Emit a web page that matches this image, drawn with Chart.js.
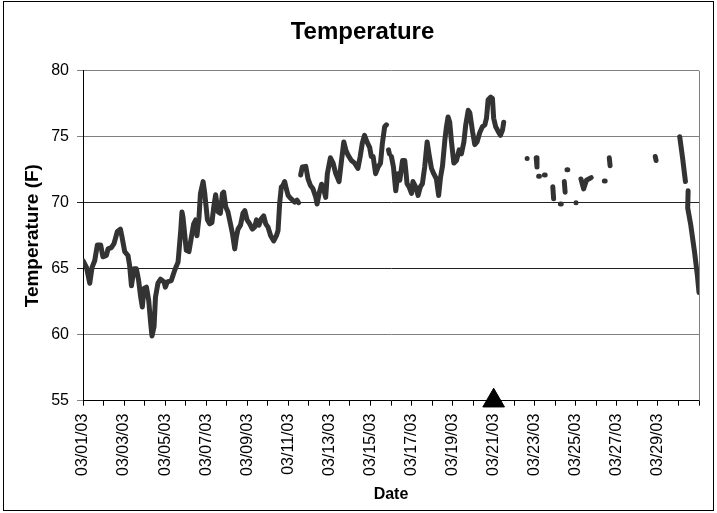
<!DOCTYPE html>
<html>
<head>
<meta charset="utf-8">
<title>Temperature</title>
<script src="https://cdn.jsdelivr.net/npm/chart.js@4.4.1/dist/chart.umd.min.js"></script>
<style>
  body { margin: 0; background: #fff; }
  canvas { display: block; }
</style>
</head>
<body>
<canvas id="chart" width="717" height="513"></canvas>
<script>
// day offsets from 03/01/03 00:00 and temperature readings (null = missing data)
const days = [
  0, 0.17, 0.33, 0.44, 0.57, 0.70, 0.86, 0.97, 1.14, 1.22, 1.38, 1.51, 1.67, 1.82, 1.90,
  2.03, 2.19, 2.27, 2.36, 2.48, 2.60, 2.71, 2.81, 2.89, 2.97, 3.09, 3.20, 3.30, 3.36, 3.46,
  3.53, 3.65, 3.78, 3.95, 4.01, 4.11, 4.30, 4.47, 4.63, 4.76, 4.82, 4.87, 5.03, 5.16, 5.28,
  5.39, 5.49, 5.55, 5.65, 5.72, 5.85, 5.93, 6.06, 6.17, 6.28, 6.37, 6.46, 6.58, 6.69, 6.79,
  6.85, 6.95, 7.06, 7.18, 7.28, 7.39, 7.47, 7.55, 7.67, 7.79, 7.88, 7.99, 8.12, 8.25, 8.36,
  8.45, 8.57, 8.69, 8.80, 8.90, 9.01, 9.14, 9.29, 9.42, 9.50, 9.58, 9.66, 9.74, 9.82, 9.91,
  9.99, 10.07, 10.20, 10.31, 10.42, 10.50, 10.55,
  10.60, 10.68, 10.85, 10.96, 11.08, 11.20, 11.34, 11.40, 11.50, 11.62, 11.72, 11.82, 11.90,
  12.05, 12.18, 12.31, 12.47, 12.59, 12.70, 12.80, 12.91, 13.07, 13.23, 13.39, 13.50, 13.60,
  13.71, 13.83, 13.96, 14.04, 14.13, 14.25, 14.37, 14.49, 14.58, 14.69, 14.78, 14.83,
  14.88, 14.92, 14.96,
  15.02, 15.12, 15.23, 15.34, 15.43, 15.56, 15.67, 15.72, 15.78, 15.88, 16.00, 16.07, 16.20,
  16.32, 16.43, 16.53, 16.64, 16.76, 16.86, 16.97, 17.08, 17.21, 17.32, 17.41, 17.51, 17.62,
  17.70, 17.78, 17.86, 17.94, 18.06, 18.19, 18.32, 18.43, 18.55, 18.64, 18.76, 18.84, 18.97,
  19.08, 19.19, 19.32, 19.45, 19.57, 19.65, 19.73, 19.86, 19.94, 20.00, 20.10, 20.22, 20.33,
  20.43, 20.49, 20.55,
  21.63, 21.67, 21.70,
  22.07, 22.11, 22.15,
  22.19, 22.23, 22.27,
  22.47, 22.51, 22.55,
  22.88, 22.92, 22.96,
  23.25, 23.29, 23.33,
  23.44, 23.48, 23.52,
  23.57, 23.61, 23.65,
  24.01, 24.05, 24.09,
  24.25, 24.38, 24.52, 24.75, 24.80,
  25.39, 25.43, 25.47,
  25.63, 25.67, 25.71,
  27.87, 27.91, 27.95,
  29.06, 29.20, 29.34, 29.38,
  29.47, 29.45, 29.60, 29.78, 29.92, 30.00
];
const temps = [
  65.6, 65.1, 63.9, 65.1, 65.6, 66.8, 66.8, 65.9, 66.0, 66.5, 66.6, 66.9, 67.8, 68.0, 67.4,
  66.3, 66.0, 65.25, 63.7, 65.0, 65.0, 64.1, 62.85, 62.1, 63.5, 63.6, 62.6, 60.8, 59.9, 60.6,
  62.85, 63.9, 64.2, 64.0, 63.6, 64.0, 64.1, 64.9, 65.5, 67.9, 69.3, 68.9, 66.4, 66.3, 67.4,
  68.4, 68.7, 67.5, 68.9, 70.7, 71.6, 70.7, 68.7, 68.4, 68.5, 69.7, 70.6, 69.3, 69.2, 70.7,
  70.8, 69.7, 69.3, 68.4, 67.65, 66.5, 67.4, 68.0, 68.3, 69.2, 69.4, 68.7, 68.4, 68.0, 68.15,
  68.7, 68.3, 68.8, 69.0, 68.4, 68.15, 67.5, 67.1, 67.5, 67.9, 70.0, 71.2, 71.3, 71.6, 71.0,
  70.55, 70.4, 70.2, 70.05, 70.2, 70.0, null,
  72.1, 72.7, 72.75, 71.8, 71.3, 71.05, 70.4, 69.9, 70.7, 71.4, 71.05, 70.4, 72.2,
  73.4, 73.0, 72.2, 71.6, 73.2, 74.6, 74.0, 73.6, 73.2, 73.0, 72.6, 73.5, 74.5,
  75.1, 74.6, 74.2, 73.5, 73.5, 72.2, 72.7, 73.0, 74.5, 75.75, 75.9, null,
  74.0, 73.7, null,
  73.5, 72.7, 70.9, 72.2, 71.7, 73.2, 73.2, 72.45, 71.45, 71.2, 70.7, 71.6, 71.2,
  70.55, 71.2, 71.45, 72.7, 74.6, 73.6, 72.6, 72.2, 71.8, 70.55, 71.9, 72.8, 74.7,
  75.75, 76.5, 76.1, 74.7, 73.0, 73.2, 74.0, 73.7, 74.6, 75.9, 77.0, 76.8, 75.4,
  74.4, 74.6, 75.3, 75.75, 75.9, 76.4, 77.8, 78.0, 77.9, 76.4, 75.75, 75.4, 75.1,
  75.5, 76.1, null,
  73.35, 73.35, null,
  73.4, 72.7, null,
  72.0, 72.0, null,
  72.1, 72.1, null,
  71.2, 70.3, null,
  69.9, 69.9, null,
  71.6, 70.8, null,
  72.5, 72.5, null,
  70.0, 70.0, null,
  71.8, 71.05, 71.7, 71.9, null,
  71.65, 71.65, null,
  73.4, 72.8, null,
  73.5, 73.2, null,
  75.0, 73.4, 71.6, null,
  70.9, 69.6, 68.3, 66.3, 64.5, 63.2
];

// marker shown on the date axis
const markerDay = 20;
const markerTemp = 55;

const dateLabels = ['03/01/03', '03/03/03', '03/05/03', '03/07/03', '03/09/03', '03/11/03',
  '03/13/03', '03/15/03', '03/17/03', '03/19/03', '03/21/03', '03/23/03', '03/25/03',
  '03/27/03', '03/29/03'];
const yTicks = [55, 60, 65, 70, 75, 80];

const points = days.map((d, i) => ({ x: d, y: temps[i] }));

const frame = {
  id: 'frame',
  beforeDraw(chart) {
    const ctx = chart.ctx;
    ctx.save();
    ctx.fillStyle = '#fff';
    ctx.fillRect(0, 0, chart.width, chart.height);
    ctx.restore();
  },
  afterDraw(chart) {
    const ctx = chart.ctx, a = chart.chartArea;
    ctx.save();
    ctx.strokeStyle = '#000';
    ctx.lineWidth = 1;
    ctx.strokeRect(3.5, 1.5, 710, 509);
    ctx.strokeStyle = '#808080';
    ctx.beginPath();
    ctx.moveTo(Math.round(a.right) + 0.5, a.top);
    ctx.lineTo(Math.round(a.right) + 0.5, a.bottom);
    ctx.stroke();
    ctx.restore();
  }
};

const font = 'Liberation Sans, Arial, sans-serif';

new Chart(document.getElementById('chart'), {
  type: 'line',
  data: {
    datasets: [
      {
        data: points,
        borderColor: '#333333',
        borderWidth: 5,
        borderCapStyle: 'round',
        borderJoinStyle: 'round',
        pointRadius: 0,
        tension: 0,
        spanGaps: false,
        order: 2
      },
      {
        type: 'scatter',
        data: [{ x: markerDay, y: markerTemp }],
        pointStyle: 'triangle',
        pointRadius: 12.5,
        backgroundColor: '#000',
        borderColor: '#000',
        borderWidth: 1,
        clip: false,
        order: 1
      }
    ]
  },
  options: {
    responsive: false,
    animation: false,
    layout: { padding: { left: 26, right: 18, top: 0, bottom: 0 } },
    plugins: {
      legend: { display: false },
      tooltip: { enabled: false },
      title: {
        display: true,
        text: 'Temperature',
        color: '#000',
        font: { family: font, size: 24, weight: 'bold' },
        padding: { top: 17.6, bottom: 24.3 }
      }
    },
    scales: {
      x: {
        type: 'linear',
        min: 0,
        max: 30,
        afterFit(scale) {
          scale.height = 112.3;
          scale.paddingLeft = 0;
          scale.paddingRight = 0;
        },
        afterBuildTicks(scale) {
          scale.ticks = [];
          for (let d = 0; d <= 30; d++) scale.ticks.push({ value: d });
        },
        ticks: {
          autoSkip: false,
          maxRotation: 90,
          minRotation: 90,
          padding: 8,
          color: '#000',
          font: { family: font, size: 16 },
          callback: (v) => (v % 2 === 0 && dateLabels[v / 2]) ? dateLabels[v / 2] : ''
        },
        grid: { drawOnChartArea: false, color: '#000', tickLength: 5 },
        border: { color: '#000', width: 1 },
        title: {
          display: true,
          text: 'Date',
          color: '#000',
          font: { family: font, size: 16, weight: 'bold' },
          padding: { top: 0, bottom: 9 }
        }
      },
      y: {
        min: 55,
        max: 80,
        afterFit(scale) { scale.width = 57; },
        afterBuildTicks(scale) { scale.ticks = yTicks.map(v => ({ value: v })); },
        ticks: {
          padding: 8,
          color: '#000',
          font: { family: font, size: 16 }
        },
        grid: {
          tickLength: 6,
          color: (c) => (c.tick && (c.tick.value === 70 || c.tick.value === 65)) ? '#222' : '#808080'
        },
        border: { color: '#000', width: 1 },
        title: {
          display: true,
          text: 'Temperature (F)',
          color: '#000',
          font: { family: font, size: 19, weight: 'bold' },
          padding: { top: -4.4, bottom: 0 }
        }
      }
    }
  },
  plugins: [frame]
});
</script>
</body>
</html>
